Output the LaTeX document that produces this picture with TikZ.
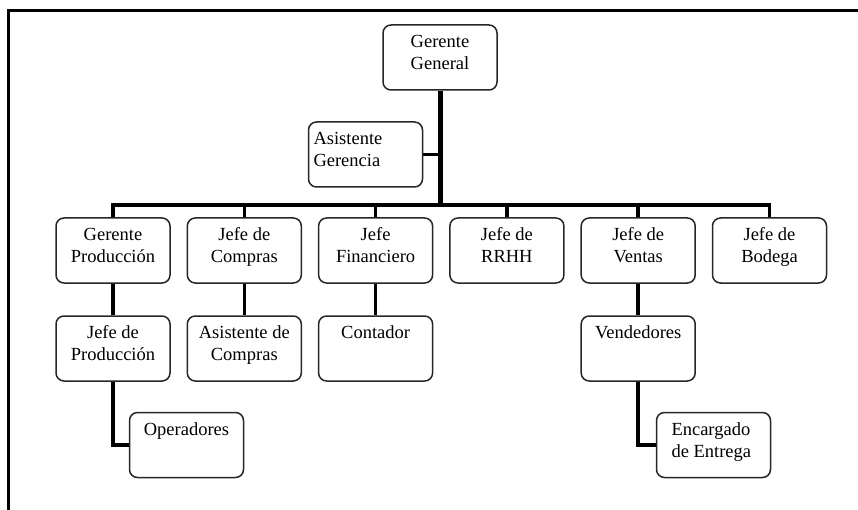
\documentclass[tikz,border=0pt]{standalone}
\usepackage{fontspec}
\setmainfont{Liberation Serif}
% box contents: fixed-size top-aligned text block
\newcommand\bxc[1]{\parbox[c][65pt][t]{114pt}{\centering\rule{0pt}{22.5pt}#1}}
\newcommand\bxl[2]{\parbox[c][65pt][t]{114pt}{\raggedright\leftskip=#1\relax\rule{0pt}{22.5pt}#2}}
\begin{document}
\begin{tikzpicture}[x=1pt,y=-1pt,
  box/.style={draw=black!85, line width=1.5pt, rounded corners=8pt, inner sep=0pt,
    fill=white, font=\fontsize{18.5}{22}\selectfont},
  link/.style={line width=3.5pt},
  trunk/.style={line width=5pt},
  frame/.style={line width=2.5pt}]
\useasboundingbox (0,0) rectangle (858,510);

% outer frame (top and left edges)
\draw[frame] (8.7,510) -- (8.7,10.5) -- (858,10.5);

% top management
\node[box] (gg) at (440,57.5) {\bxc{Gerente\\General}};
\node[box] (ag) at (365.5,154.5) {\bxl{5pt}{Asistente\\Gerencia}};

% department heads
\node[box] (gp) at (113,250.5)   {\bxc{Gerente\\Producción}};
\node[box] (jc) at (244.3,250.5) {\bxc{Jefe de\\Compras}};
\node[box] (jf) at (375.6,250.5) {\bxc{Jefe\\Financiero}};
\node[box] (jr) at (506.9,250.5) {\bxc{Jefe de\\RRHH}};
\node[box] (jv) at (638.2,250.5) {\bxc{Jefe de\\Ventas}};
\node[box] (jb) at (769.5,250.5) {\bxc{Jefe de\\Bodega}};

% third level
\node[box] (jp) at (113,348.5)   {\bxc{Jefe de\\Producción}};
\node[box] (ac) at (244.3,348.5) {\bxc{Asistente de\\Compras}};
\node[box] (ct) at (375.6,348.5) {\bxc{Contador}};
\node[box] (vd) at (638.2,348.5) {\bxc{Vendedores}};

% fourth level
\node[box] (op) at (186.5,445) {\bxc{Operadores}};
\node[box] (en) at (713.5,445) {\bxl{15pt}{Encargado\\de Entrega}};

% connectors
\coordinate (bus) at (440,205);
\draw[trunk] (gg.south) -- ([yshift=1.75pt]gg.south |- bus);
\draw[link] (ag.east) -- (ag.east -| gg.south);
\draw[link] (gp.north) |- (jb.north |- bus) -- (jb.north);
\foreach \n in {jc,jf,jr,jv}
  \draw[link] (\n.north) -- (\n.north |- bus);
\draw[link] (gp.south) -- (jp.north);
\draw[link] (jc.south) -- (ac.north);
\draw[link] (jf.south) -- (ct.north);
\draw[link] (jv.south) -- (vd.north);
\draw[link] (jp.south) |- (op.west);
\draw[link] (vd.south) |- (en.west);
\end{tikzpicture}
\end{document}
